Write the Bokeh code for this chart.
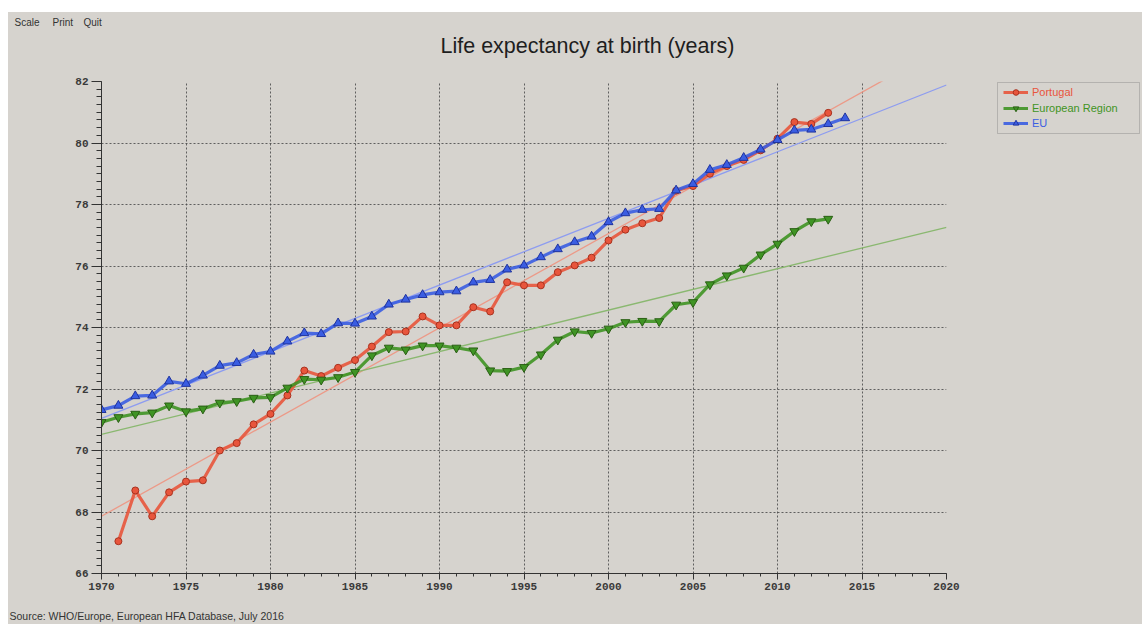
import numpy as np
from bokeh.plotting import figure
from bokeh.layouts import column, row
from bokeh.models import (Legend, LegendItem, Label, BoxAnnotation, FixedTicker,
                          Range1d)
from bokeh.embed import file_html
from bokeh.resources import INLINE

# ---- data -------------------------------------------------------------
pt_years = list(range(1971, 2014))
portugal = [67.05, 68.70, 67.86, 68.64, 68.99, 69.03, 70.00, 70.24, 70.85, 71.19,
            71.79, 72.60, 72.42, 72.69, 72.94, 73.38, 73.85, 73.87, 74.36, 74.07,
            74.07, 74.66, 74.52, 75.47, 75.37, 75.37, 75.80, 76.02, 76.27, 76.83,
            77.18, 77.39, 77.56, 78.45, 78.60, 79.00, 79.25, 79.45, 79.76, 80.14,
            80.68, 80.62, 80.98]

er_years = list(range(1970, 2014))
european_region = [70.92, 71.08, 71.19, 71.23, 71.46, 71.27, 71.36, 71.55, 71.60, 71.71,
                   71.73, 72.04, 72.32, 72.30, 72.38, 72.55, 73.09, 73.34, 73.28, 73.41,
                   73.41, 73.34, 73.25, 72.60, 72.58, 72.71, 73.12, 73.60, 73.87, 73.82,
                   73.96, 74.17, 74.21, 74.20, 74.74, 74.82, 75.40, 75.69, 75.94, 76.37,
                   76.72, 77.13, 77.45, 77.53]

eu_years = list(range(1970, 2015))
eu = [71.32, 71.46, 71.77, 71.79, 72.25, 72.17, 72.44, 72.76, 72.85, 73.12,
      73.22, 73.55, 73.82, 73.79, 74.14, 74.13, 74.36, 74.75, 74.91, 75.06,
      75.15, 75.18, 75.47, 75.55, 75.89, 76.02, 76.29, 76.55, 76.78, 76.96,
      77.43, 77.72, 77.83, 77.86, 78.46, 78.67, 79.13, 79.29, 79.52, 79.79,
      80.10, 80.41, 80.44, 80.62, 80.81]

x_ticks = [1970, 1975, 1980, 1985, 1990, 1995, 2000, 2005, 2010, 2015, 2020]
y_ticks = [66, 68, 70, 72, 74, 76, 78, 80, 82]
trend_span = [1970, 2020]

series_names = ["Portugal", "European Region", "EU"]
title_text = "Life expectancy at birth (years)"
source_text = "Source: WHO/Europe, European HFA Database, July 2016"
menu_items = ["Scale", "Print", "Quit"]

# ---- styling ----------------------------------------------------------
BG = "#d6d3ce"
RED, RED_D, RED_T = "#e8553c", "#a8321f", "#ec9a88"
GRN, GRN_D, GRN_T = "#3f9424", "#2a5f14", "#8ab870"
BLU, BLU_D, BLU_T = "#3a5de2", "#1f339e", "#8d9cf0"
STYLES = [(RED, RED_D, "circle", 7), (GRN, GRN_D, "inverted_triangle", 9),
          (BLU, BLU_D, "triangle", 9)]
BGSTYLE = {"background-color": BG}

TOTAL_W, TOTAL_H = 1134, 612          # page minus the white strips (left 8, top 12)
TOP_H, BOT_H = 61, 16
MAIN_H = TOTAL_H - TOP_H - BOT_H      # 535
MAIN_W = 954
FRAME_W, FRAME_H = 845, 492
B_LEFT, B_TOP = 93, 8
B_RIGHT = MAIN_W - B_LEFT - FRAME_W
B_BOTTOM = MAIN_H - B_TOP - FRAME_H


def blank(w, h, **kw):
    f = figure(width=w, height=h, output_backend="svg", toolbar_location=None,
               x_axis_type=None, y_axis_type=None, styles=BGSTYLE, **kw)
    f.background_fill_color = BG
    f.border_fill_color = BG
    f.outline_line_color = None
    f.grid.visible = False
    return f


# ---- main plot --------------------------------------------------------
p = figure(width=MAIN_W, height=MAIN_H, output_backend="svg", toolbar_location=None,
           x_range=Range1d(1970, 2020), y_range=Range1d(66, 82), styles=BGSTYLE,
           min_border_left=B_LEFT, min_border_right=B_RIGHT, min_border_top=B_TOP,
           min_border_bottom=B_BOTTOM)
p.background_fill_color = BG
p.border_fill_color = BG
p.outline_line_color = None

for ax, ticks, step in ((p.xaxis[0], x_ticks, 1), (p.yaxis[0], y_ticks, 0.25)):
    ax.ticker = FixedTicker(ticks=ticks,
                            minor_ticks=list(np.arange(ticks[0], ticks[-1] + 0.001, step)))
    ax.major_label_text_font = "Liberation Mono"
    ax.major_label_text_font_style = "bold"
    ax.major_label_text_font_size = "11px"
    ax.major_label_text_color = "#3a3a3a"
    ax.axis_line_color = "#333333"
    ax.major_tick_line_color = "#333333"
    ax.minor_tick_line_color = "#333333"
    ax.major_tick_in = 0
    ax.minor_tick_in = 0

p.yaxis.major_tick_out = 10
p.yaxis.minor_tick_out = 5
p.yaxis.major_label_standoff = 3
p.xaxis.major_tick_out = 6
p.xaxis.minor_tick_out = 3
p.xaxis.major_label_standoff = 3

p.grid.grid_line_color = "#4a4a4a"
p.grid.grid_line_dash = "2 2"
p.grid.grid_line_width = 1
p.grid.grid_line_alpha = 0.85

series = [(pt_years, portugal), (er_years, european_region), (eu_years, eu)]

# trend lines (least-squares fits of the series)
for (xs, ys), col in zip(series, (RED_T, GRN_T, BLU_T)):
    k, b = np.polyfit(xs, ys, 1)
    p.line(trend_span, [k * t + b for t in trend_span], line_color=col, line_width=1.3)

for (xs, ys), (col, dark, mk, sz) in zip(series, STYLES):
    p.line(xs, ys, line_color=col, line_width=3.2, line_alpha=0.9)
    p.scatter(xs, ys, marker=mk, size=sz, fill_color=col, line_color=dark)

# ---- legend panel (right); its frame is aligned with the main frame ----
LEG_W = TOTAL_W - MAIN_W
lf = blank(LEG_W, MAIN_H, x_range=Range1d(0, LEG_W), y_range=Range1d(0, FRAME_H),
           min_border_left=0, min_border_right=0, min_border_top=B_TOP,
           min_border_bottom=B_BOTTOM)
box_left = 997 - 8 - MAIN_W
lf.add_layout(BoxAnnotation(left=box_left, right=LEG_W - 3, top=FRAME_H - 1,
                            bottom=FRAME_H - 52, fill_alpha=0,
                            line_color="#666666", line_width=1))
for i, (name, (xs, ys), (col, dark, mk, sz)) in enumerate(zip(series_names, series,
                                                             STYLES)):
    # sample renderers (their data lies outside this panel's view)
    rl = lf.line(xs, ys, line_color=col, line_width=3, line_alpha=0.9)
    rm = lf.scatter(xs, ys, marker=mk, size=sz, fill_color=col, line_color=dark)
    leg = Legend(items=[LegendItem(label=name, renderers=[rl, rm])],
                 location=(box_left + 4, FRAME_H - 20 - i * 15.5), margin=0, padding=2,
                 border_line_alpha=0, background_fill_alpha=0,
                 label_text_color=col, label_text_font="Liberation Sans",
                 label_text_font_size="11px", label_height=14, glyph_height=14,
                 glyph_width=25, label_standoff=4)
    lf.add_layout(leg)

# ---- top panel: menu + title -------------------------------------------
tf = blank(TOTAL_W, TOP_H, x_range=Range1d(0, TOTAL_W), y_range=Range1d(0, TOP_H),
           min_border=0)
tf.add_layout(Label(x=579, y=16, text=title_text, text_align="center",
                    text_font="Liberation Sans", text_font_size="21.5px",
                    text_color="#1e1e1e"))
for txt, xpos in zip(menu_items, [6, 44, 75]):
    tf.add_layout(Label(x=xpos, y=46, text=txt, text_font="Liberation Sans",
                        text_font_size="10px", text_color="#333333"))

# ---- bottom panel: source ----------------------------------------------
bf = blank(TOTAL_W, BOT_H, x_range=Range1d(0, TOTAL_W), y_range=Range1d(0, BOT_H),
           min_border=0)
bf.add_layout(Label(x=1, y=3, text=source_text, text_font="Liberation Sans",
                    text_font_size="10.5px", text_color="#333333"))

layout = column(tf, row(p, lf, spacing=0, styles=BGSTYLE), bf, spacing=0,
                styles=BGSTYLE, margin=(12, 0, 0, 8))
open("out.html", "w").write(file_html(layout, INLINE))
